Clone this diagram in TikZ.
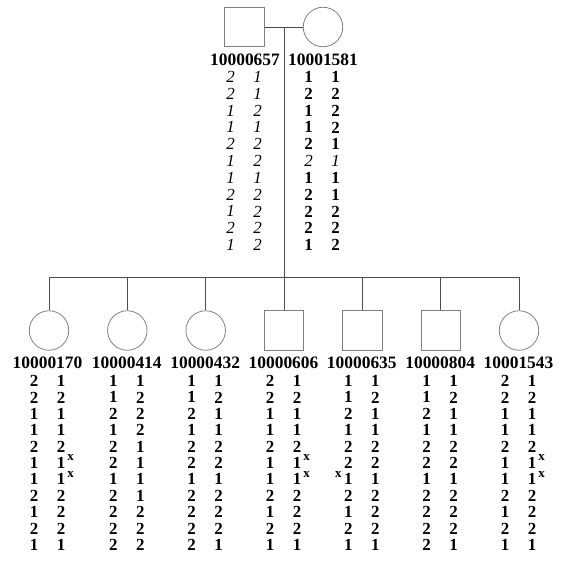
\documentclass[tikz,border=0pt]{standalone}
\usepackage{fontspec}
\setmainfont{Liberation Serif}
\usetikzlibrary{positioning}
\tikzset{
	kin/.style={draw=black!70,line width=0.8pt},
	male/.style={draw=black!50,line width=0.8pt,minimum size=39.5bp,inner sep=0pt},
	female/.style={draw=black!50,line width=0.8pt,circle,minimum size=39.5bp,inner sep=0pt},
	tag/.style={inner sep=0pt,font=\fontsize{17.5}{17.5}\selectfont\bfseries},
	allele/.style={inner sep=0pt,font=\fontsize{17}{17}\selectfont\bfseries},
	alleleit/.style={inner sep=0pt,font=\fontsize{17}{17}\selectfont\itshape},
	xmark/.style={inner sep=0pt,font=\fontsize{13}{13}\selectfont\bfseries}
}
\newcommand\ital[1]{{\normalfont\itshape #1}}
% #1 name, #2 style, #3 centre x, #4 first row y, #5 row step, #6 allele pairs
\newcommand\haplo[6]{%
	\foreach \p/\q [count=\r] in {#6} {
		\node[#2] (#1-\r-a) at (#3-13.5,{#4+#5*(\r-1)}) {\p};
		\node[#2] (#1-\r-b) at (#3+13.5,{#4+#5*(\r-1)}) {\q};
	}}
\begin{document}
\begin{tikzpicture}[x=1bp,y=-1bp]
	\useasboundingbox (0,0) rectangle (563,569);
	% parents
	\node[male] (f) at (244.5,27) {};
	\node[female] (m) at (323,27) {};
	\node[tag] (fid) at (245,60) {10000657};
	\node[tag] (mid) at (323,60) {10001581};
	\coordinate (d) at (284,27);
	\coordinate (s) at (284,277);
	\draw[kin] (f.east) -- (m.west);
	\draw[kin] (d) -- (s);
	\haplo{f}{alleleit}{244}{77}{16.8}{2/1,2/1,1/2,1/1,2/2,1/2,1/1,2/2,1/2,2/2,1/2}
	\haplo{m}{allele}{322}{77}{16.8}{1/1,2/2,1/2,1/2,2/1,\ital{2}/\ital{1},1/1,2/1,2/2,2/2,1/2}
	% children
	\node[female] (c1) at (49,330.5) {};
	\node[female] (c2) at (127.3,330.5) {};
	\node[female] (c3) at (205.7,330.5) {};
	\node[male] (c4) at (284,330.5) {};
	\node[male] (c5) at (362.3,330.5) {};
	\node[male] (c6) at (440.7,330.5) {};
	\node[female] (c7) at (519,330.5) {};
	\draw[kin] (c1|-s) -- (c7|-s);
	\foreach \c in {c1,c2,c3,c4,c5,c6,c7}
		\draw[kin] (\c|-s) -- (\c.north);
	\node[tag] (c1id) at (47.5,363) {10000170};
	\node[tag] (c2id) at (126.8,363) {10000414};
	\node[tag] (c3id) at (205.2,363) {10000432};
	\node[tag] (c4id) at (283.5,363) {10000606};
	\node[tag] (c5id) at (361.8,363) {10000635};
	\node[tag] (c6id) at (440.2,363) {10000804};
	\node[tag] (c7id) at (518.5,363) {10001543};
	\haplo{c1}{allele}{47.5}{381}{16.4}{2/1,2/2,1/1,1/1,2/2,1/1,1/1,2/2,1/2,2/2,1/1}
	\haplo{c2}{allele}{126.8}{381}{16.4}{1/1,1/2,2/2,1/2,2/1,2/1,1/1,2/1,2/2,2/2,2/2}
	\haplo{c3}{allele}{205.2}{381}{16.4}{1/1,1/2,2/1,1/1,2/2,2/2,1/1,2/2,2/2,2/2,2/1}
	\haplo{c4}{allele}{283.5}{381}{16.4}{2/1,2/2,1/1,1/1,2/2,1/1,1/1,2/2,1/2,2/2,1/1}
	\haplo{c5}{allele}{361.8}{381}{16.4}{1/1,1/2,2/1,1/1,2/2,2/2,1/1,2/2,1/2,2/2,1/1}
	\haplo{c6}{allele}{440.2}{381}{16.4}{1/1,1/2,2/1,1/1,2/2,2/2,1/1,2/2,2/2,2/2,2/1}
	\haplo{c7}{allele}{518.5}{381}{16.4}{2/1,2/2,1/1,1/1,2/2,1/1,1/1,2/2,1/2,2/2,1/1}
	% recombinations
	\node[xmark] (c1x6) at ([shift={(9.5,-5)}]c1-6-b) {x};
	\node[xmark] (c1x7) at ([shift={(9.5,-5)}]c1-7-b) {x};
	\node[xmark] (c4x6) at ([shift={(9.5,-5)}]c4-6-b) {x};
	\node[xmark] (c4x7) at ([shift={(9.5,-5)}]c4-7-b) {x};
	\node[xmark] (c5x7) at ([shift={(-10,-5)}]c5-7-a) {x};
	\node[xmark] (c7x6) at ([shift={(9.5,-5)}]c7-6-b) {x};
	\node[xmark] (c7x7) at ([shift={(9.5,-5)}]c7-7-b) {x};
\end{tikzpicture}
\end{document}
